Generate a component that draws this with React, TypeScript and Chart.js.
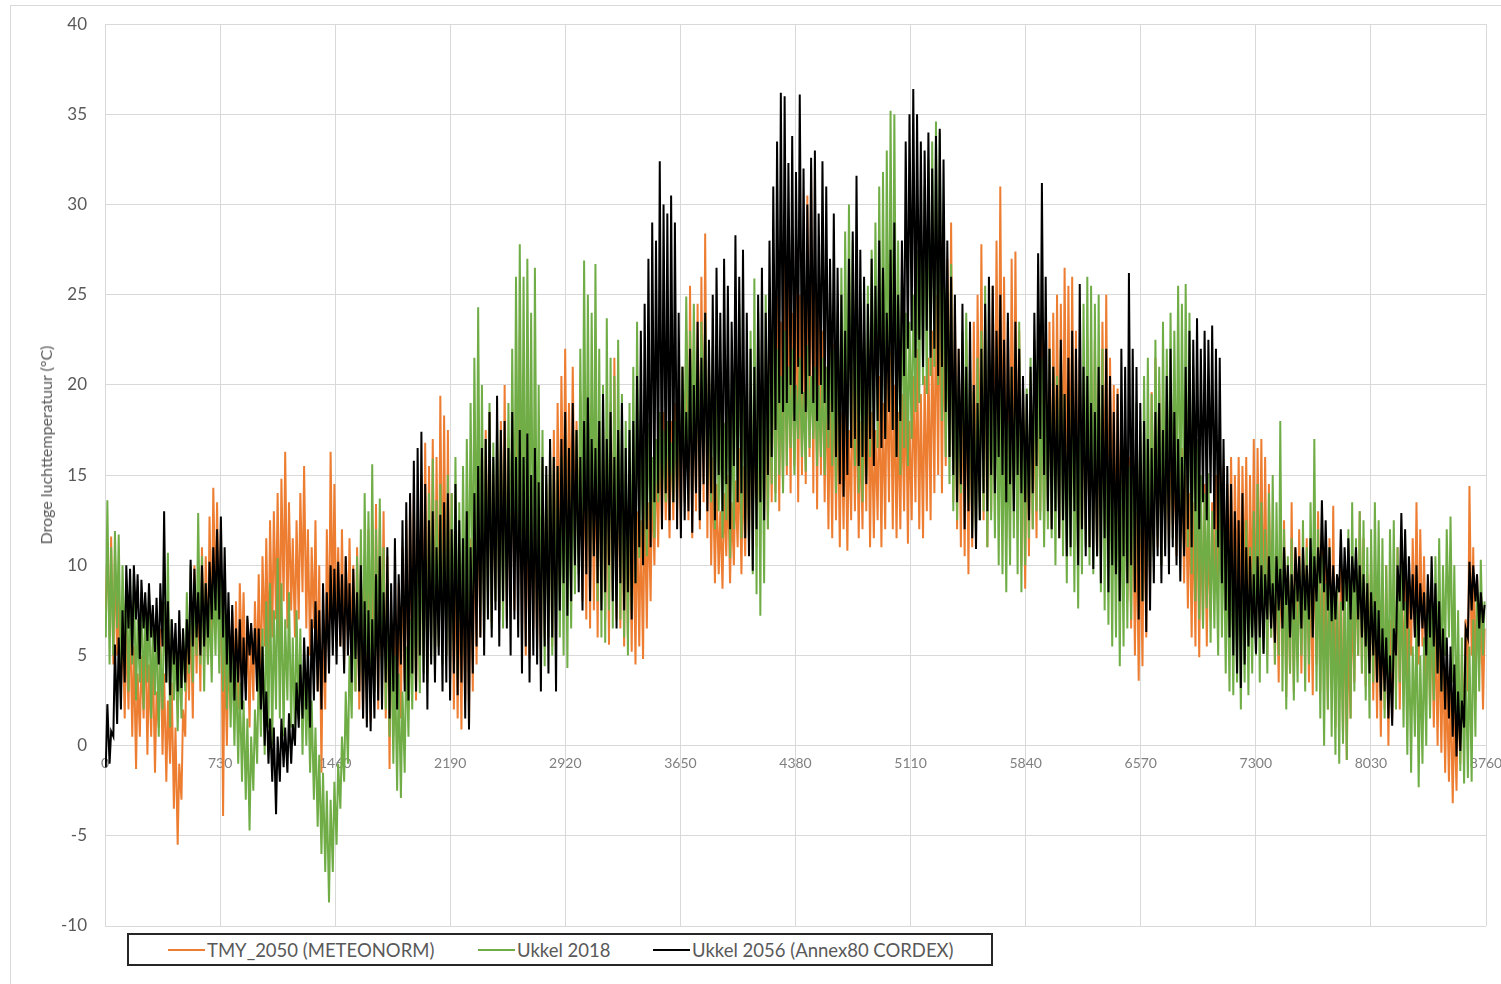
import React, { useEffect, useRef } from "react";
import { Chart, registerables } from "chart.js";

Chart.register(...registerables);

// Hour-of-year axis ticks (every 730 h) and temperature ticks
const hourTicks = [0, 730, 1460, 2190, 2920, 3650, 4380, 5110, 5840, 6570, 7300, 8030, 8760];
const tempTicks = [-10, -5, 0, 5, 10, 15, 20, 25, 30, 35, 40];

// Daily minimum / maximum dry-bulb temperature (°C), day 0 … 364

// TMY_2050 (METEONORM)
const tmy2050Min = [
  7.5, 6.0, 4.5, 5.0, 3.0, 1.5, 2.0, 0.5, -1.3, 0.5,
  1.5, -0.5, 0.5, -1.5, 1.0, -0.5, -2.0, -1.0, -3.5, -5.5,
  -3.0, 0.5, 2.5, 1.5, 4.0, 3.0, 5.0, 4.5, 6.0, 7.5,
  5.0, -3.9, 0.0, 2.0, 3.5, 2.0, 4.5, 3.0, 1.0, 2.5,
  4.0, 3.0, 5.5, 4.5, 6.0, 7.0, 5.5, 8.0, 6.5, 7.5,
  6.0, 7.0, 8.5, 6.5, 5.0, 6.5, 3.0, -1.5, 2.0, 5.0,
  7.0, 6.0, 5.5, 4.5, 6.0, 5.0, 3.0, 2.0, 1.5, 2.5,
  1.3, 3.0, 2.0, 4.5, 1.5, -1.3, 0.5, 2.5, 1.5, 3.5,
  2.0, 4.0, 2.5, 3.5, 5.0, 4.0, 6.0, 4.5, 5.5, 7.0,
  5.0, 3.5, 2.0, 1.5, 0.9, 2.5, 1.0, 3.0, 4.5, 6.0,
  7.0, 8.5, 6.8, 8.0, 7.5, 9.0, 7.0, 8.5, 7.5, 9.0,
  6.0, 5.0, 4.8, 6.5, 5.5, 4.8, 6.0, 7.0, 5.5, 8.0,
  10.0, 12.0, 10.5, 13.0, 11.0, 10.5, 8.0, 7.0, 6.5, 7.5,
  6.0, 8.0, 7.0, 5.6, 8.5, 7.0, 6.5, 5.5, 6.0, 5.2,
  4.5, 5.5, 4.8, 6.5, 8.0, 10.0, 11.0, 12.0, 12.5, 11.5,
  12.5, 13.0, 12.0, 13.5, 12.5, 11.5, 13.0, 12.0, 13.5, 11.5,
  10.0, 9.0, 9.5, 8.7, 10.5, 9.0, 10.0, 11.0, 9.5, 10.5,
  11.5, 12.5, 11.0, 12.5, 13.0, 12.0, 13.5, 14.0, 13.0, 14.5,
  15.0, 14.0, 15.5, 13.5, 15.0, 14.5, 16.0, 14.0, 13.1, 15.0,
  13.5, 12.0, 11.5, 12.5, 11.0, 12.0, 10.8, 12.5, 13.0, 11.5,
  12.0, 13.0, 11.0, 11.5, 12.5, 11.0, 12.0, 13.5, 12.0, 11.5,
  12.0, 13.0, 11.2, 12.5, 13.5, 12.0, 11.5, 13.0, 12.5, 14.0,
  15.0, 14.0, 15.5, 16.0, 13.5, 12.0, 11.0, 10.5, 9.5, 11.0,
  12.0, 13.5, 12.5, 11.0, 13.0, 14.5, 15.0, 13.0, 11.5, 12.5,
  14.0, 12.5, 10.0, 8.7, 10.5, 12.0, 11.5, 13.0, 12.0, 13.5,
  12.0, 13.0, 11.5, 14.0, 12.5, 13.0, 11.0, 10.4, 11.5, 12.0,
  11.0, 12.5, 10.5, 13.0, 12.0, 11.0, 12.5, 10.0, 11.5, 9.5,
  8.0, 6.5, 5.0, 3.6, 4.4, 6.0, 9.0, 10.5, 11.0, 10.0,
  12.0, 11.0, 12.3, 10.5, 11.5, 9.0, 7.6, 6.0, 5.5, 4.9,
  6.5, 5.5, 7.0, 8.5, 9.0, 10.0, 8.0, 9.5, 7.5, 8.0,
  7.0, 8.5, 6.0, 7.5, 5.5, 8.0, 6.5, 5.0, 6.0, 4.5,
  3.5, 5.0, 2.7, 4.0, 3.0, 5.5, 4.0, 6.0, 3.5, 2.8,
  4.5, 3.0, 5.0, 2.0, 3.5, 1.0, 2.5, 0.5, -0.8, 1.5,
  3.5, 5.0, 4.0, 3.3, 5.5, 2.5, 1.5, 0.5, 2.0, 0.0,
  1.5, 3.0, 2.0, 4.0, 3.0, 5.0, 6.0, 4.5, 5.5, 3.5,
  2.0, 1.0, 0.0, -0.4, -1.5, -2.0, -3.2, -2.5, -1.0, 0.5,
  3.0, 5.0, 2.5, 4.5, 2.0,
];
const tmy2050Max = [
  11.0, 11.6, 10.5, 8.5, 7.0, 6.5, 7.5, 5.5, 4.0, 5.0,
  7.0, 4.5, 5.5, 3.0, 6.5, 4.0, 2.5, 3.5, 1.0, -1.0,
  2.0, 6.5, 8.0, 10.0, 9.0, 11.0, 10.5, 12.7, 14.3, 13.5,
  12.0, 6.0, 5.0, 7.5, 8.0, 9.0, 8.5, 7.0, 6.5, 8.0,
  9.5, 10.5, 11.5, 12.5, 13.0, 14.0, 14.8, 16.3, 13.5, 11.5,
  12.5, 14.0, 15.5, 12.0, 11.0, 12.5, 10.0, 7.0, 12.0, 16.3,
  14.5, 11.0, 12.0, 10.5, 11.5, 10.0, 11.0, 9.5, 10.5, 12.0,
  12.5, 13.4, 12.0, 13.0, 10.5, 7.0, 6.5, 9.0, 11.0, 12.5,
  13.5, 14.0, 12.0, 15.0, 16.8, 15.5, 17.0, 16.0, 19.4, 18.3,
  17.5, 14.0, 11.0, 10.0, 9.5, 12.0, 11.5, 13.0, 15.0, 16.5,
  17.5, 18.5, 15.0, 16.5, 18.0, 20.0, 17.0, 18.7, 19.5, 22.8,
  17.0, 14.5, 15.0, 14.0, 13.5, 15.5, 14.5, 16.0, 17.5, 19.0,
  20.5, 22.0, 19.0, 21.0, 18.0, 19.5, 17.0, 18.5, 19.0, 17.5,
  18.0, 16.5, 17.5, 19.0, 21.5, 18.0, 16.0, 15.0, 14.0, 13.5,
  13.0, 12.5, 14.0, 13.5, 15.0, 16.5, 17.5, 18.5, 17.0, 18.0,
  19.0, 18.0, 21.0, 23.0, 25.5, 22.0, 24.5, 26.0, 28.4, 21.0,
  16.0, 14.5, 13.0, 14.0, 15.0, 13.5, 14.7, 16.5, 15.5, 17.0,
  18.0, 19.5, 17.0, 18.5, 20.0, 22.0, 24.5, 25.0, 23.5, 27.0,
  26.0, 24.0, 28.0, 25.0, 27.5, 30.5, 32.1, 28.0, 24.5, 23.0,
  21.0, 19.5, 22.3, 20.0, 18.5, 19.0, 17.5, 21.0, 20.5, 18.0,
  19.5, 21.5, 18.5, 17.5, 20.5, 19.0, 21.0, 22.0, 20.0, 18.5,
  19.5, 21.0, 18.0, 20.5, 22.0, 19.5, 20.5, 21.5, 23.0, 25.0,
  26.5, 24.0, 27.0, 29.0, 24.5, 22.0, 21.0, 22.5, 20.0, 23.5,
  25.0, 27.8, 24.0, 22.0, 25.5, 28.0, 31.0, 26.0, 23.5, 27.0,
  27.4, 23.0, 20.0, 18.8, 20.7, 19.5, 22.0, 24.0, 21.5, 23.5,
  24.0, 25.0, 24.5, 26.5, 25.5, 26.0, 23.0, 21.5, 20.0, 22.5,
  21.0, 22.5, 20.0, 23.5, 25.0, 21.5, 20.0, 19.8, 18.5, 17.0,
  16.0, 15.5, 13.0, 12.0, 14.0, 16.5, 19.6, 21.5, 20.0, 19.5,
  17.0, 16.0, 15.5, 17.0, 16.5, 15.0, 14.0, 13.5, 15.0, 13.0,
  14.5, 12.0, 13.5, 15.0, 16.4, 15.5, 14.5, 16.0, 15.0, 16.0,
  15.5, 16.0, 15.0, 17.0, 16.5, 17.0, 16.0, 14.5, 12.0, 11.0,
  10.5, 12.5, 10.0, 13.5, 11.0, 12.0, 9.8, 11.5, 10.5, 12.0,
  13.0, 12.0, 10.7, 11.5, 13.3, 9.0, 10.0, 8.5, 6.0, 8.0,
  10.0, 13.0, 11.5, 9.5, 10.5, 9.0, 8.5, 7.5, 10.0, 7.0,
  9.0, 11.0, 8.8, 10.0, 9.5, 11.5, 13.5, 12.0, 10.5, 9.0,
  8.0, 7.0, 6.5, 5.5, 4.0, 3.5, 2.0, 3.5, 5.0, 7.0,
  14.4, 11.0, 9.5, 8.0, 6.5,
];

// Ukkel 2018
const ukkel2018Min = [
  6.0, 4.5, 5.0, 6.5, 4.0, 5.5, 3.0, 4.5, 2.5, 3.5,
  2.0, 3.5, 1.5, 2.8, 0.5, 2.0, 3.5, 1.0, 2.5, 0.8,
  1.5, 3.0, 4.0, 3.5, 5.0, 4.5, 3.0, 4.5, 3.5, 5.0,
  4.0, 3.0, 2.0, 1.0, 0.0, -1.0, -2.0, -3.0, -4.7, -2.5,
  -1.0, 0.5, -0.5, 1.0, 0.0, 2.0, 1.5, 0.5, 2.5, 1.0,
  0.5, 1.5, -0.5, 0.0, -1.5, -3.0, -4.5, -6.0, -7.0, -8.7,
  -7.0, -5.5, -3.5, -2.0, -1.0, 1.5, 3.0, 4.0, 3.0, 5.0,
  4.5, 3.0, 5.0, 4.0, 2.0, 0.5, -1.0, -2.5, -2.9, -1.5,
  0.5, 2.0, 3.0, 2.9, 4.0, 3.5, 5.0, 4.0, 5.5, 4.5,
  5.0, 4.0, 5.5, 3.8, 5.0, 6.0, 7.5, 8.0, 9.0, 7.5,
  6.4, 7.5, 6.5, 8.0, 7.0, 6.5, 8.5, 9.5, 10.0, 10.8,
  9.5, 8.0, 10.0, 7.5, 6.8, 5.5, 4.4, 6.0, 5.0, 6.5,
  6.0, 5.0, 4.3, 6.5, 8.4, 9.5, 10.4, 11.0, 9.5, 10.5,
  8.0, 6.0, 5.7, 7.5, 6.5, 8.0, 7.0, 6.0, 5.0, 7.5,
  9.0, 10.4, 11.0, 10.5, 12.5, 11.5, 13.5, 14.0, 13.5, 15.0,
  13.5, 14.5, 15.0, 16.5, 15.5, 17.0, 16.0, 15.5, 17.0, 14.5,
  13.5, 12.0, 13.0, 11.5, 12.5, 10.4, 12.0, 13.5, 11.5, 12.5,
  11.0, 9.5, 8.4, 7.2, 9.0, 12.0, 14.5, 13.5, 15.0, 14.0,
  15.5, 16.5, 15.0, 17.0, 16.0, 15.2, 16.5, 17.0, 15.5, 16.0,
  15.0, 16.5, 15.5, 14.0, 15.0, 16.0, 17.0, 16.5, 15.5, 14.0,
  13.5, 15.0, 16.0, 17.5, 16.5, 18.0, 17.0, 18.5, 17.5, 16.0,
  15.0, 16.5, 15.5, 17.0, 18.5, 19.0, 20.0, 19.5, 20.5, 21.0,
  20.0, 18.0, 16.0, 14.5, 13.0, 12.5, 14.0, 15.2, 13.5, 12.0,
  11.5, 12.5, 13.0, 11.0, 12.5, 11.5, 10.0, 9.5, 8.5, 10.0,
  11.5, 9.5, 8.5, 10.0, 11.5, 12.0, 13.0, 12.5, 11.0, 12.0,
  11.5, 10.0, 12.0, 10.5, 9.0, 10.5, 8.5, 7.6, 9.5, 11.0,
  10.0, 9.5, 10.5, 8.5, 7.5, 6.7, 5.5, 6.0, 4.4, 5.5,
  6.5, 7.0, 8.5, 9.5, 8.0, 10.0, 9.0, 10.5, 11.5, 10.0,
  11.0, 12.5, 11.5, 13.0, 12.0, 12.5, 11.0, 9.5, 8.0, 7.0,
  6.5, 7.6, 5.7, 6.5, 5.0, 6.0, 4.0, 3.0, 2.8, 3.5,
  2.0, 3.5, 2.8, 4.0, 5.0, 3.5, 5.1, 4.0, 6.0, 4.5,
  5.0, 3.0, 2.0, 4.0, 2.5, 3.5, 5.0, 3.0, 4.5, 6.0,
  3.0, 1.5, 0.0, 2.0, 0.5, -0.5, -1.0, 0.1, -0.8, 1.5,
  3.0, 5.0, 4.0, 2.5, 1.5, 3.5, 5.1, 3.0, 1.5, 2.5,
  4.0, 2.0, 3.5, 1.0, -0.5, -1.5, 0.5, -2.3, -1.0, 0.0,
  1.5, 2.5, 4.0, 3.0, 5.0, 6.0, 3.5, 0.5, -1.4, -2.1,
  -1.8, -2.0, 0.5, 3.0, 5.0,
];
const ukkel2018Max = [
  13.6, 11.0, 11.9, 11.7, 10.0, 9.0, 8.0, 9.5, 7.0, 8.5,
  7.5, 8.5, 6.5, 7.0, 5.5, 8.0, 10.7, 7.0, 6.0, 5.5,
  6.5, 8.5, 10.0, 9.0, 12.9, 10.5, 9.0, 8.0, 9.5, 10.0,
  10.0, 8.0, 7.5, 5.5, 4.5, 3.5, 2.5, 1.5, 0.5, 2.0,
  4.5, 6.5, 8.0, 9.0, 7.5, 10.4, 9.0, 7.0, 8.5, 6.0,
  7.5, 6.5, 5.0, 4.0, 2.5, 1.0, -0.5, -1.5, -2.5, -3.0,
  -2.0, -1.0, 0.5, 3.0, 5.0, 8.0, 10.5, 12.0, 14.0, 13.0,
  15.6, 12.0, 13.7, 11.0, 9.0, 7.0, 5.0, 4.0, 3.0, 5.5,
  7.0, 9.5, 11.0, 12.5, 11.5, 14.0, 15.9, 13.6, 14.5, 13.0,
  15.0, 14.0, 16.0, 13.5, 15.5, 17.0, 19.0, 21.5, 24.3, 20.0,
  17.0, 19.0, 16.8, 18.0, 17.5, 16.0, 19.0, 22.0, 26.0, 27.8,
  26.0, 27.0, 24.0, 26.5, 20.0, 17.5, 15.0, 17.0, 16.0, 15.5,
  16.0, 17.9, 15.7, 16.5, 17.5, 22.0, 26.9, 25.0, 24.0, 26.7,
  22.0, 20.0, 23.7, 21.5, 20.5, 22.5, 19.5, 18.0, 19.0, 21.0,
  23.5, 18.5, 17.0, 17.9, 16.0, 17.0, 18.5, 17.5, 18.0, 16.8,
  18.0, 19.5, 21.0, 24.9, 23.0, 24.5, 22.0, 23.5, 24.0, 21.0,
  22.0, 20.5, 19.0, 17.9, 21.5, 19.5, 22.5, 24.5, 21.0, 20.0,
  23.0, 25.9, 24.0, 22.5, 25.0, 21.0, 23.5, 22.0, 20.5, 23.0,
  21.0, 22.0, 20.0, 21.5, 19.6, 22.2, 20.5, 21.0, 20.0, 21.5,
  21.0, 23.0, 22.0, 24.0, 26.5, 28.5, 30.0, 28.0, 26.0, 24.5,
  23.0, 25.5, 27.5, 29.0, 31.0, 31.8, 33.0, 35.2, 35.0, 28.0,
  26.0, 24.0, 23.5, 25.0, 27.5, 29.5, 31.0, 32.5, 33.5, 34.6,
  34.0, 28.0, 24.5, 26.7, 22.0, 20.5, 23.0, 24.0, 21.0, 19.6,
  21.5, 23.0, 25.5, 22.5, 20.5, 22.0, 20.0, 19.0, 18.0, 21.0,
  22.0, 23.5, 20.0, 19.8, 21.5, 22.5, 23.0, 21.5, 20.0, 22.0,
  21.0, 20.5, 22.0, 19.5, 18.8, 21.2, 19.0, 20.0, 24.5, 26.0,
  25.5, 24.5, 25.0, 22.0, 18.8, 17.5, 16.0, 17.0, 15.0, 16.5,
  15.5, 17.0, 19.0, 18.0, 20.5, 21.5, 19.5, 22.5, 21.0, 23.5,
  22.0, 24.0, 23.0, 25.5, 24.5, 25.6, 24.0, 21.0, 17.0, 15.0,
  14.0, 15.1, 13.0, 12.0, 14.5, 13.0, 11.5, 12.0, 10.5, 11.0,
  10.0, 12.5, 11.0, 13.0, 14.5, 13.5, 12.0, 14.0, 15.0, 13.5,
  18.0, 12.0, 10.5, 11.5, 9.0, 10.0, 12.5, 11.0, 13.5, 17.0,
  12.0, 10.5, 9.0, 11.0, 8.8, 9.5, 8.0, 10.0, 12.0, 13.5,
  11.5, 13.0, 12.5, 11.0, 12.0, 13.5, 12.5, 11.5, 10.0, 12.0,
  12.5, 11.0, 10.0, 8.0, 6.5, 5.5, 7.5, 5.0, 6.0, 8.5,
  9.0, 10.5, 11.5, 10.0, 12.0, 12.7, 10.0, 7.5, 6.0, 5.0,
  5.5, 7.0, 9.0, 10.3, 8.0,
];

// Ukkel 2056 (Annex80 CORDEX)
const ukkel2056Min = [
  -1.2, -1.0, 0.5, 1.2, 2.0, 3.5, 6.5, 5.0, 7.0, 4.8,
  6.5, 5.8, 6.0, 5.2, 4.5, 5.5, 3.5, 2.8, 4.5, 3.0,
  3.2, 3.5, 4.5, 5.5, 6.0, 5.0, 5.5, 6.0, 7.0, 7.5,
  7.0, 6.0, 4.5, 3.5, 2.5, 3.5, 2.0, 2.5, 5.0, 4.5,
  3.0, 2.0, 0.0, -1.0, -2.0, -3.8, -2.0, -1.2, -1.5, -1.0,
  0.0, 1.0, 1.5, 2.0, 1.0, 2.5, 3.0, 2.0, 3.5, 4.0,
  5.0, 4.5, 5.5, 4.0, 5.0, 3.5, 4.8, 3.0, 1.5, 1.0,
  0.8, 1.5, 2.5, 2.0, 3.5, 1.5, 3.0, 2.0, 4.5, 3.0,
  2.5, 4.0, 3.0, 5.0, 3.5, 2.0, 4.5, 3.5, 5.0, 3.0,
  3.5, 2.5, 4.0, 2.8, 3.5, 1.5, 0.9, 4.0, 5.5, 6.0,
  5.0, 7.0, 6.0, 7.5, 5.5, 8.0, 6.5, 5.0, 7.0, 6.0,
  4.0, 5.5, 3.5, 5.0, 4.5, 3.0, 5.5, 4.0, 6.0, 3.0,
  7.5, 9.0, 7.2, 8.0, 10.0, 8.5, 7.5, 9.5, 8.0, 10.5,
  9.0, 7.5, 8.5, 10.0, 8.0, 6.5, 9.0, 7.5, 8.5, 7.0,
  9.0, 11.0, 10.0, 12.0, 11.0, 13.5, 14.0, 12.0, 14.0, 12.5,
  13.5, 12.0, 11.5, 12.5, 13.0, 11.8, 14.0, 12.5, 14.5, 13.0,
  14.0, 12.5, 15.0, 13.0, 14.5, 12.0, 15.5, 13.5, 14.0, 11.5,
  10.5, 9.7, 12.0, 13.5, 12.5, 15.0, 16.0, 17.5, 19.0, 18.5,
  19.0, 20.0, 18.0, 21.0, 19.5, 18.5, 20.5, 19.0, 18.0, 20.0,
  19.0, 17.5, 18.5, 16.0, 14.5, 13.8, 15.0, 16.5, 17.0, 15.5,
  16.0, 14.5, 17.0, 15.5, 18.0, 16.5, 17.0, 18.5, 17.5, 16.0,
  18.0, 20.5, 22.0, 23.0, 21.5, 22.5, 21.0, 23.0, 21.5, 22.0,
  20.5, 21.0, 18.5, 16.0, 15.0, 13.5, 14.5, 12.0, 13.0, 11.5,
  10.9, 12.5, 14.0, 13.0, 15.0, 14.0, 16.0, 15.0, 13.5, 14.5,
  13.0, 15.0, 14.0, 13.5, 12.5, 14.0, 15.5, 17.0, 15.0, 13.0,
  12.0, 13.0, 11.5, 12.5, 10.5, 11.0, 13.0, 10.0, 12.0, 10.5,
  11.0, 9.8, 10.5, 9.0, 11.5, 8.5, 10.0, 9.5, 8.0, 10.5,
  9.0, 10.0, 8.5, 7.0, 8.0, 6.3, 7.5, 9.0, 10.5, 9.0,
  10.5, 9.5, 11.0, 10.0, 9.1, 10.5, 12.0, 11.0, 13.0, 12.0,
  13.5, 12.5, 14.0, 12.0, 11.0, 9.0, 7.5, 6.0, 5.0, 4.0,
  3.2, 4.5, 5.5, 6.0, 5.1, 6.0, 5.1, 7.0, 6.5, 5.7,
  7.5, 6.5, 7.8, 6.0, 7.0, 8.0, 6.5, 7.5, 7.0, 6.0,
  8.0, 9.0, 8.5, 7.5, 6.9, 7.0, 8.5, 7.5, 8.0, 7.0,
  8.5, 7.0, 6.0, 5.5, 4.0, 5.0, 3.5, 2.5, 3.0, 1.5,
  1.1, 5.0, 8.0, 7.5, 6.5, 7.0, 6.0, 5.5, 6.5, 5.0,
  6.0, 5.5, 4.0, 3.0, 2.0, 1.5, 0.5, -0.6, -0.3, 1.0,
  6.0, 7.5, 8.0, 6.5, 6.8,
];
const ukkel2056Max = [
  2.3, 0.8, 5.6, 6.0, 7.5, 10.0, 9.8, 10.0, 9.5, 9.2,
  8.5, 9.0, 7.8, 8.2, 9.0, 13.0, 8.0, 7.0, 6.8, 7.5,
  6.5, 7.0, 10.3, 9.8, 8.5, 10.0, 9.0, 10.2, 11.0, 12.0,
  12.7, 11.0, 8.5, 7.8, 6.5, 7.0, 6.0, 7.2, 6.8, 6.5,
  6.5, 5.5, 3.0, 1.5, 1.0, 0.5, 1.5, 1.0, 1.8, 1.2,
  3.5, 4.5, 6.0, 5.5, 7.0, 8.0, 7.5, 9.0, 8.5, 10.0,
  9.8, 10.2, 9.5, 10.5, 9.0, 9.8, 8.5, 10.0, 8.0, 7.5,
  7.0, 9.5, 10.5, 8.5, 11.0, 9.0, 11.5, 9.5, 12.5, 13.5,
  14.0, 15.8, 16.5, 17.4, 14.5, 12.5, 13.0, 11.0, 12.8, 13.5,
  14.0, 12.0, 14.5, 12.5, 11.5, 13.0, 11.0, 14.0, 15.5, 16.5,
  17.0, 18.5, 16.0, 19.4, 17.5, 18.0, 16.5, 18.5, 16.0, 17.5,
  16.0, 17.3, 15.0, 16.5, 14.6, 16.0, 15.5, 17.0, 16.0, 15.5,
  17.0, 18.5, 16.5, 19.0, 17.5, 16.0, 18.0, 19.3, 17.0, 16.5,
  18.0, 19.5, 17.0, 18.5, 16.0, 17.5, 19.0, 16.5, 17.5, 18.0,
  20.5, 23.0, 24.5, 27.0, 29.0, 28.0, 32.4, 30.0, 29.5, 30.5,
  29.0, 24.0, 21.0, 18.5, 22.0, 20.0, 23.5, 21.5, 24.0, 22.5,
  25.0, 26.5, 24.0, 27.0, 25.5, 23.5, 28.3, 26.0, 27.5, 24.0,
  22.0, 21.0, 25.0, 26.5, 24.0, 28.0, 31.0, 33.5, 36.2, 36.0,
  32.3, 33.8, 31.8, 36.1, 32.0, 30.0, 32.6, 33.0, 29.5, 32.4,
  31.0, 27.0, 29.5, 26.5, 25.0, 23.0, 27.0, 28.5, 31.6, 27.5,
  26.0, 24.5, 27.0, 25.5, 28.0, 26.5, 24.0, 27.5, 29.0, 25.0,
  28.0, 33.5, 35.0, 36.4, 35.0, 33.5, 33.0, 34.0, 32.0, 33.8,
  34.2, 32.5, 28.0, 26.0, 25.0, 22.0, 24.5, 21.0, 23.5, 20.0,
  19.0, 22.0, 24.5, 26.0, 25.5, 23.0, 25.0, 22.5, 24.0, 21.0,
  23.5, 22.0, 20.5, 19.5, 21.0, 24.0, 27.3, 31.2, 26.0, 22.0,
  21.0, 20.0, 22.5, 19.5, 21.5, 23.0, 22.0, 25.6, 21.0, 20.5,
  19.0, 18.5, 21.0, 20.0, 22.0, 20.5, 18.5, 19.5, 22.0, 21.0,
  26.2, 22.0, 21.0, 19.0, 18.0, 17.0, 16.5, 18.5, 19.0, 17.5,
  20.5, 22.0, 18.5, 17.0, 16.0, 21.0, 23.0, 22.5, 23.7, 22.0,
  23.0, 22.5, 23.3, 22.0, 21.5, 17.0, 15.5, 14.5, 13.0, 12.5,
  14.0, 11.0, 10.5, 9.5, 10.5, 10.0, 9.5, 10.5, 9.0, 10.5,
  9.8, 11.0, 10.0, 9.5, 11.0, 10.5, 11.0, 10.0, 11.5, 10.5,
  11.0, 13.6, 12.5, 11.0, 10.0, 9.5, 12.0, 11.0, 11.5, 10.5,
  11.0, 10.0, 9.5, 9.0, 8.5, 8.0, 7.5, 6.5, 6.0, 5.0,
  6.5, 10.0, 12.9, 12.0, 10.5, 9.5, 10.0, 9.0, 8.5, 9.5,
  10.5, 9.0, 8.0, 6.5, 6.0, 5.5, 4.5, 3.0, 2.5, 6.5,
  10.2, 10.0, 9.5, 8.5, 7.8,
];

// Hour of the day at which the daily minimum and maximum are plotted
const MIN_HOUR = 5;
const MAX_HOUR = 15;

function hourlyPoints(mins: number[], maxs: number[]) {
  const pts: { x: number; y: number }[] = [];
  mins.forEach((lo, day) => {
    pts.push({ x: day * 24 + MIN_HOUR, y: lo });
    pts.push({ x: day * 24 + MAX_HOUR, y: maxs[day] });
  });
  return pts;
}

const series = [
  { label: "TMY_2050 (METEONORM)", color: "#ED7D31", mins: tmy2050Min, maxs: tmy2050Max, order: 3 },
  { label: "Ukkel 2018", color: "#70AD47", mins: ukkel2018Min, maxs: ukkel2018Max, order: 2 },
  { label: "Ukkel 2056 (Annex80 CORDEX)", color: "#000000", mins: ukkel2056Min, maxs: ukkel2056Max, order: 1 },
];

const FONT = "Lato, 'Open Sans', sans-serif";

// Canvas is shifted up slightly so the plot frame spans y = 24 … 926 on the page
const CANVAS_TOP = -4;
const CANVAS_HEIGHT = 987;

function TemperatureChart() {
  const canvasRef = useRef<HTMLCanvasElement | null>(null);

  useEffect(() => {
    if (!canvasRef.current) return;
    const chart = new Chart(canvasRef.current, {
      type: "line",
      data: {
        datasets: series.map((s) => ({
          label: s.label,
          data: hourlyPoints(s.mins, s.maxs),
          borderColor: s.color,
          backgroundColor: s.color,
          borderWidth: 2,
          pointRadius: 0,
          tension: 0,
          order: s.order,
        })),
      },
      options: {
        animation: false,
        responsive: false,
        maintainAspectRatio: false,
        parsing: false as any,
        layout: { padding: { left: 30, top: 20, right: 15, bottom: 57 } },
        plugins: {
          legend: { display: false },
          tooltip: { enabled: false },
        },
        scales: {
          x: {
            type: "linear",
            position: { y: 0 } as any,
            min: 0,
            max: 8760,
            afterBuildTicks: (scale: any) => {
              scale.ticks = hourTicks.map((v) => ({ value: v }));
            },
            afterFit: (scale: any) => {
              scale.paddingLeft = 0;
              scale.paddingRight = 0;
              scale.paddingTop = 0;
              scale.paddingBottom = 0;
            },
            ticks: {
              autoSkip: false,
              maxRotation: 0,
              padding: 9,
              color: "#808080",
              font: { family: FONT, size: 14 },
              callback: (value: any) => String(value),
            },
            grid: { color: "#d9d9d9", drawTicks: false, lineWidth: 1 },
            border: { display: false },
          },
          y: {
            type: "linear",
            min: -10,
            max: 40,
            afterBuildTicks: (scale: any) => {
              scale.ticks = tempTicks.map((v) => ({ value: v }));
            },
            afterFit: (scale: any) => {
              scale.width = 75;
            },
            ticks: {
              padding: 18,
              color: "#595959",
              font: { family: FONT, size: 17 },
            },
            grid: { color: "#d9d9d9", drawTicks: false, lineWidth: 1 },
            border: { display: false },
          },
        },
      },
    });
    return () => chart.destroy();
  }, []);

  return (
    <canvas
      ref={canvasRef}
      width={1501}
      height={CANVAS_HEIGHT}
      style={{ position: "absolute", left: 0, top: CANVAS_TOP, width: 1501, height: CANVAS_HEIGHT }}
    />
  );
}

const legendItems = [
  { label: series[0].label, color: series[0].color, left: 168 },
  { label: series[1].label, color: series[1].color, left: 478 },
  { label: series[2].label, color: series[2].color, left: 653 },
];

export default function App() {
  return (
    <div style={{ position: "absolute", left: 0, top: 0, width: 1501, height: 984, overflow: "hidden", background: "#fff" }}>
      <div style={{ position: "absolute", left: 10, top: 5, width: 1520, height: 1000, border: "1px solid #d9d9d9", boxSizing: "border-box" }} />
      <TemperatureChart />
      <div
        style={{
          position: "absolute",
          left: 46,
          top: 445,
          transform: "translate(-50%, -50%) rotate(-90deg)",
          fontFamily: FONT,
          fontSize: 16,
          color: "#595959",
          whiteSpace: "nowrap",
          lineHeight: 1,
        }}
      >
        Droge luchttemperatuur (°C)
      </div>
      <div
        style={{
          position: "absolute",
          left: 127,
          top: 933,
          width: 866,
          height: 33,
          border: "2px solid #262626",
          boxSizing: "border-box",
          background: "#fff",
        }}
      />
      {legendItems.map((item) => (
        <div
          key={item.label}
          style={{
            position: "absolute",
            left: item.left,
            top: 938,
            height: 23,
            display: "flex",
            alignItems: "center",
            fontFamily: FONT,
            fontSize: 18.5,
            color: "#595959",
            whiteSpace: "nowrap",
          }}
        >
          <span style={{ display: "inline-block", width: 37, height: 2, background: item.color, marginRight: 2 }} />
          <span>{item.label}</span>
        </div>
      ))}
    </div>
  );
}
